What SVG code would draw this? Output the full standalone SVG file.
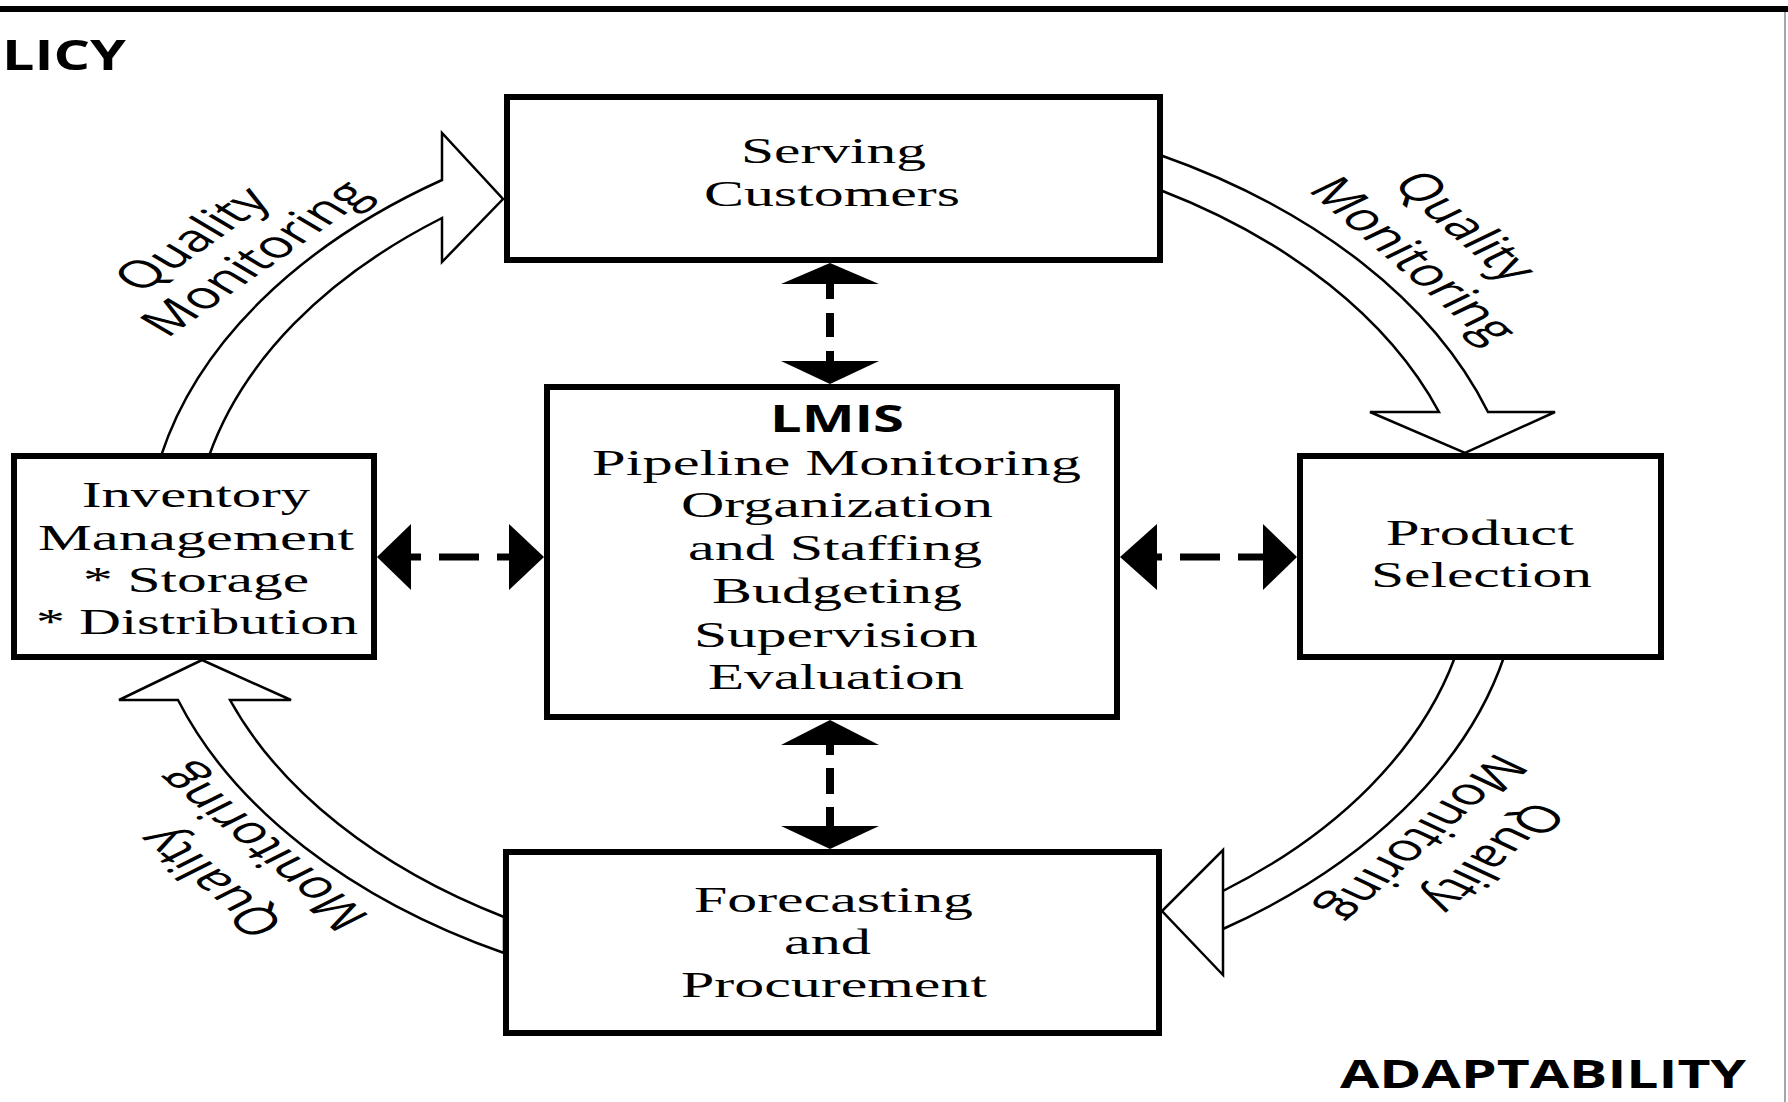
<svg xmlns="http://www.w3.org/2000/svg" width="1788" height="1102" viewBox="0 0 1788 1102">
<style>
.box{fill:#fff;stroke:#000;stroke-width:6}
.hollow{fill:#fff;stroke:#000;stroke-width:2.5;stroke-linejoin:miter}
.dash{fill:none;stroke:#000}
.head{fill:#000;stroke:none}
.serif{font-family:"Liberation Serif","Times New Roman",serif;font-size:36px;fill:#000}
.bold{font-family:"Open Sans","Liberation Sans",sans-serif;font-weight:bold;fill:#000}
.ql{font-family:"Open Sans","Liberation Sans",sans-serif;font-size:38px;fill:#000;text-anchor:middle}
</style>
<rect width="1788" height="1102" fill="#fff"/>
<g id="frame">
<line x1="0" y1="9" x2="1788" y2="9" stroke="#000" stroke-width="6"/>
<line x1="1785" y1="12" x2="1785" y2="1102" stroke="#888" stroke-width="1.5"/>
</g>
<g id="corner-labels">
<text class="bold" x="2" y="70" font-size="42" textLength="124" lengthAdjust="spacingAndGlyphs">LICY</text>
<text class="bold" x="1340" y="1088" font-size="40" textLength="406" lengthAdjust="spacingAndGlyphs">ADAPTABILITY</text>
</g>
<g id="connectors">
<path class="hollow" d="M161,456 A686,450 0 0 1 442,180 L442,133 L503,199 L442,262 L442,218 A640,420 0 0 0 209,456 Z"/>
<path class="hollow" d="M1160,155 A686,450 0 0 1 1488,412 L1555,412 L1465,453 L1370,412 L1439,412 A640,420 0 0 0 1160,190 Z"/>
<path class="hollow" d="M1504,657 A686,450 0 0 1 1223,929 L1223,850 L1162,911 L1223,975 L1223,891 A640,420 0 0 0 1455,657 Z"/>
<path class="hollow" d="M504,953 A686,450 0 0 1 178,700 L119,700 L202,660 L291,700 L230,700 A640,420 0 0 0 504,917 Z"/>
<line class="dash" x1="830" y1="284" x2="830" y2="361" stroke-width="8" stroke-dasharray="24 14" stroke-dashoffset="9"/>
<polygon class="head" points="830,263 879,284 781,284"/>
<polygon class="head" points="781,361 879,361 830,384"/>
<line class="dash" x1="830" y1="745" x2="830" y2="826" stroke-width="8" stroke-dasharray="26 13" stroke-dashoffset="16"/>
<polygon class="head" points="830,720 879,745 781,745"/>
<polygon class="head" points="781,826 879,826 830,849"/>
<line class="dash" x1="411" y1="557" x2="509" y2="557" stroke-width="7" stroke-dasharray="40 18" stroke-dashoffset="30"/>
<polygon class="head" points="377,557 411,524 411,590"/>
<polygon class="head" points="509,524 544,557 509,590"/>
<line class="dash" x1="1157" y1="557" x2="1263" y2="557" stroke-width="7" stroke-dasharray="40 18" stroke-dashoffset="35"/>
<polygon class="head" points="1120,557 1157,524 1157,590"/>
<polygon class="head" points="1263,524 1297,557 1263,590"/>
<g transform="translate(195,241) scale(1.55,1) rotate(-47.3)"><text class="ql" x="0" y="10">Quality</text><text class="ql" x="13.6" y="53">Monitoring</text></g>
<g transform="translate(1462,228) scale(1.55,1) rotate(53)"><text class="ql" x="0" y="10">Quality</text><text class="ql" x="7" y="57">Monitoring</text></g>
<g transform="translate(1490,856) scale(1.55,1) rotate(126)"><text class="ql" x="0" y="10">Quality</text><text class="ql" x="10.5" y="57.7">Monitoring</text></g>
<g transform="translate(214,881) scale(1.55,1) rotate(232)"><text class="ql" x="0" y="10">Quality</text><text class="ql" x="6.6" y="57.7">Monitoring</text></g>
</g>
<g id="serving">
<rect class="box" x="507" y="97" width="653" height="163"/>
<text class="serif" x="741" y="163" textLength="185" lengthAdjust="spacingAndGlyphs">Serving</text>
<text class="serif" x="704" y="206" textLength="256" lengthAdjust="spacingAndGlyphs">Customers</text>
</g>
<g id="lmis">
<rect class="box" x="547" y="387" width="570" height="330"/>
<text class="bold" x="770" y="432" font-size="38" textLength="134" lengthAdjust="spacingAndGlyphs">LMIS</text>
<text class="serif" x="592" y="475" textLength="489" lengthAdjust="spacingAndGlyphs">Pipeline Monitoring</text>
<text class="serif" x="681" y="517" textLength="312" lengthAdjust="spacingAndGlyphs">Organization</text>
<text class="serif" x="688" y="560" textLength="294" lengthAdjust="spacingAndGlyphs">and Staffing</text>
<text class="serif" x="712" y="603" textLength="250" lengthAdjust="spacingAndGlyphs">Budgeting</text>
<text class="serif" x="694" y="647" textLength="284" lengthAdjust="spacingAndGlyphs">Supervision</text>
<text class="serif" x="708" y="689" textLength="256" lengthAdjust="spacingAndGlyphs">Evaluation</text>
</g>
<g id="inventory">
<rect class="box" x="14" y="456" width="360" height="201"/>
<text class="serif" x="82" y="507" textLength="228" lengthAdjust="spacingAndGlyphs">Inventory</text>
<text class="serif" x="38" y="550" textLength="316" lengthAdjust="spacingAndGlyphs">Management</text>
<text class="serif" x="83" y="592" textLength="226" lengthAdjust="spacingAndGlyphs">* Storage</text>
<text class="serif" x="36" y="634" textLength="322" lengthAdjust="spacingAndGlyphs">* Distribution</text>
</g>
<g id="product">
<rect class="box" x="1300" y="456" width="361" height="201"/>
<text class="serif" x="1386" y="545" textLength="188" lengthAdjust="spacingAndGlyphs">Product</text>
<text class="serif" x="1371" y="587" textLength="221" lengthAdjust="spacingAndGlyphs">Selection</text>
</g>
<g id="forecasting">
<rect class="box" x="506" y="852" width="653" height="181"/>
<text class="serif" x="694" y="912" textLength="279" lengthAdjust="spacingAndGlyphs">Forecasting</text>
<text class="serif" x="784" y="954" textLength="87" lengthAdjust="spacingAndGlyphs">and</text>
<text class="serif" x="681" y="997" textLength="306" lengthAdjust="spacingAndGlyphs">Procurement</text>
</g>
</svg>
